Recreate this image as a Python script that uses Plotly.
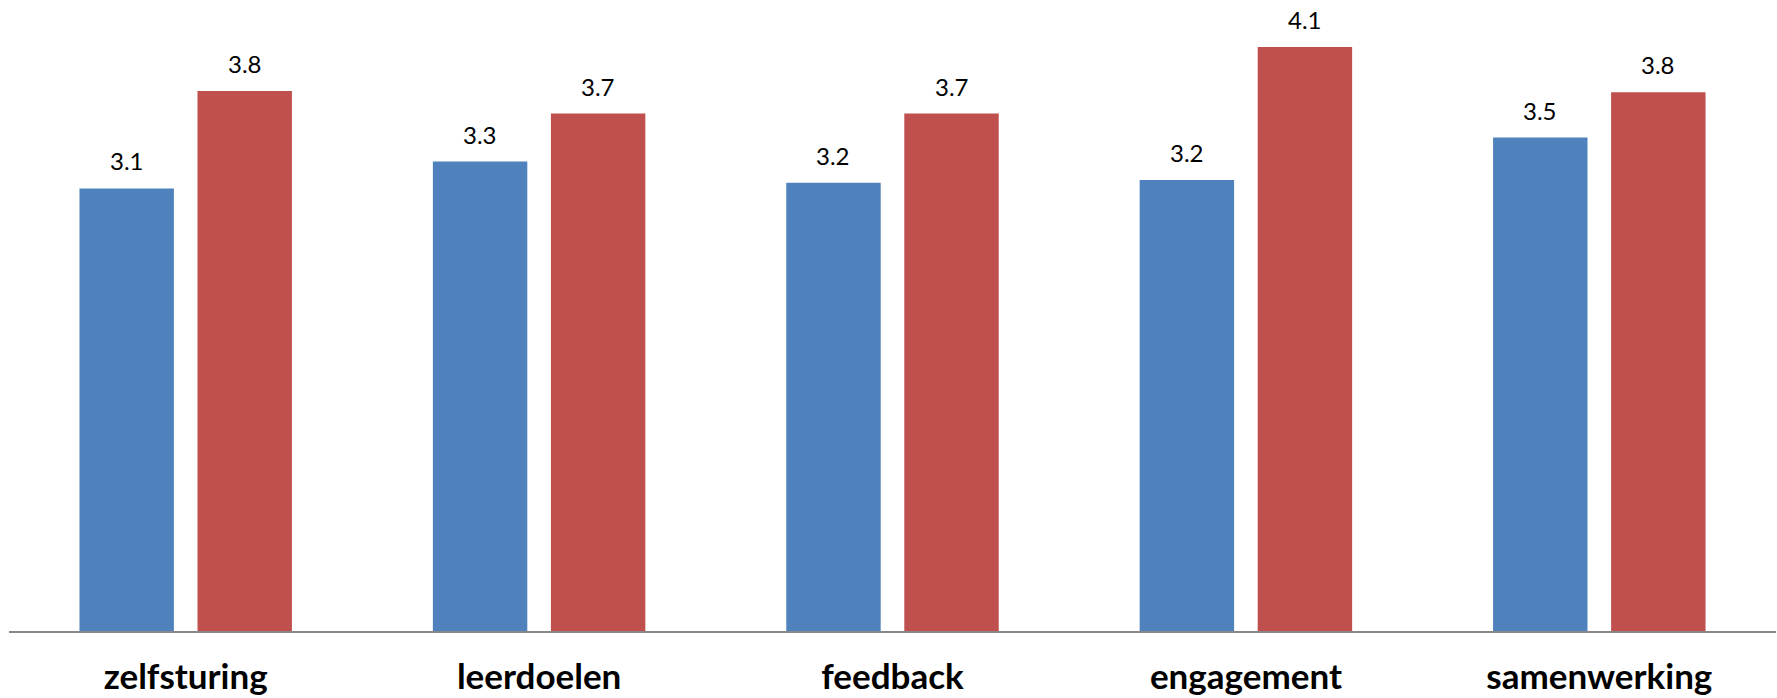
import plotly.graph_objects as go

categories = ["zelfsturing", "leerdoelen", "feedback", "engagement", "samenwerking"]
series_a = [3.13, 3.32, 3.17, 3.19, 3.49]
series_b = [3.82, 3.66, 3.66, 4.13, 3.81]
color_a = "#4F81BD"
color_b = "#C0504D"

BARGAP = 0.332
GROUPGAP = 0.2
YMAX = 4.463

fig = go.Figure()
fig.add_trace(go.Bar(x=categories, y=series_a, marker=dict(color=color_a, line=dict(width=0)), showlegend=False, hoverinfo="skip"))
fig.add_trace(go.Bar(x=categories, y=series_b, marker=dict(color=color_b, line=dict(width=0)), showlegend=False, hoverinfo="skip"))

offset = (1 - BARGAP) / 4
annotations = []
for i, (a, b) in enumerate(zip(series_a, series_b)):
    for xv, v in ((i - offset, a), (i + offset, b)):
        annotations.append(dict(
            x=xv, y=v, xref="x", yref="y", text=f"{v:.1f}", showarrow=False,
            yanchor="bottom", xanchor="center", yshift=11,
            font=dict(family="Lato", size=24, color="#000000"),
        ))

fig.update_layout(
    width=1777, height=698,
    margin=dict(l=9, r=1, t=0, b=67, pad=0),
    paper_bgcolor="white", plot_bgcolor="white",
    barmode="group", bargap=BARGAP, bargroupgap=GROUPGAP,
    annotations=annotations,
    xaxis=dict(
        showline=True, linecolor="#888888", linewidth=1.5,
        showgrid=False, zeroline=False, ticks="",
        tickfont=dict(family="Lato", size=35, color="#000000", weight="bold"),
        ticklabelstandoff=14, automargin=False,
    ),
    yaxis=dict(range=[0, YMAX], visible=False, showgrid=False, zeroline=False, automargin=False),
)

fig.write_html("out.html")
